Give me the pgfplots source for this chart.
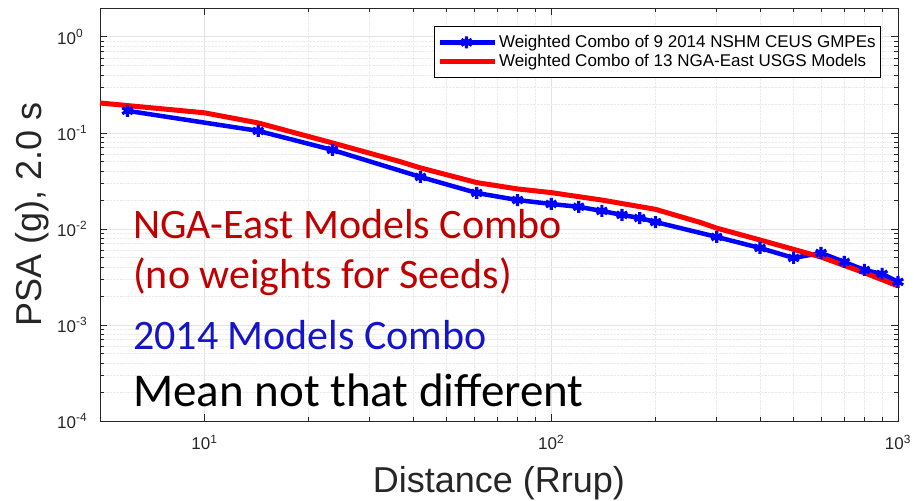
\documentclass[border=0pt]{standalone}
\usepackage{pgfplots}
\pgfplotsset{compat=1.18}
\usepackage{fontspec}
\setmainfont{Liberation Sans}
\newfontfamily\calib{Carlito}
\definecolor{axgray}{RGB}{38,38,38}
\definecolor{annred}{RGB}{192,0,0}
\definecolor{annblue}{RGB}{20,20,200}
\begin{document}
\begin{tikzpicture}
\path[use as bounding box] (-100pt,-80pt) rectangle (814pt,421pt);
\begin{axis}[
  scale only axis, width=798pt, height=413pt,
  xmode=log, ymode=log,
  xmin=5, xmax=1000, ymin=1e-4, ymax=2,
  clip=false,
  axis line style={axgray, line width=0.8pt},
  tick style={axgray, line width=0.8pt},
  major tick length=7pt, minor tick length=4pt,
  tick align=inside,
  xtick={10,100,1000},
  xticklabels={10\textsuperscript{1},10\textsuperscript{2},10\textsuperscript{3}},
  ytick={1e-4,1e-3,1e-2,1e-1,1},
  yticklabels={10\textsuperscript{-4},10\textsuperscript{-3},10\textsuperscript{-2},10\textsuperscript{-1},10\textsuperscript{0}},
  tick label style={font=\fontsize{17}{19}\selectfont, text=axgray, inner sep=0pt},
  xticklabel style={anchor=north, yshift=-14pt},
  yticklabel style={anchor=west, xshift=-43pt},
  grid=both,
  major grid style={color=gray!22, line width=0.8pt},
  minor grid style={color=gray!16, densely dotted, line width=0.8pt},
  xlabel={Distance (Rrup)},
  ylabel={PSA (g), 2.0 s},
  label style={font=\fontsize{36}{40}\selectfont, text=axgray},
  xlabel style={at={(axis description cs:0.5,-0.1743)}, anchor=base},
  ylabel style={at={(axis description cs:-0.0727,0.5)}, anchor=base},
  legend cell align=left,
  legend style={at={(0.9787,0.956)}, anchor=north east, draw=black, line width=0.6pt,
    fill=white, font=\fontsize{17}{20}\selectfont, inner xsep=3pt, inner ysep=7pt, row sep=1pt,
    /tikz/every even column/.append style={column sep=0pt}},
  legend image code/.code={\draw[mark repeat=2, mark phase=2, #1] plot coordinates {(0pt,0pt) (27pt,0pt) (55pt,0pt)};},
]
\addplot[blue, line width=4.5pt, mark=asterisk, mark size=6pt, mark options={line width=3.2pt}] coordinates {
(6,0.170) (14.3,0.105) (23.4,0.0665) (42,0.0348) (61,0.0237) (80,0.0200)
(100,0.0182) (120,0.0170) (140,0.0154) (160,0.0140) (180,0.0130) (200,0.0118)
(300,0.00826) (400,0.00634) (500,0.00499) (600,0.00562) (700,0.00453)
(800,0.00374) (900,0.00340) (1000,0.00281)
};
\addlegendentry{Weighted Combo of 9 2014 NSHM CEUS GMPEs}
\addplot[red, line width=5pt] coordinates {
(5,0.205) (10,0.162) (14.3,0.127) (23.4,0.0787) (36.7,0.0502) (42,0.0432)
(61,0.0304) (80,0.0261) (100,0.0239) (140,0.0200) (200,0.0160) (270,0.01164)
(300,0.0102) (400,0.00768) (600,0.0051) (800,0.0035) (1000,0.00255)
};
\addlegendentry{Weighted Combo of 13 NGA-East USGS Models}
\node[anchor=base west, inner sep=0pt, text=annred, font=\calib\fontsize{42}{46}\selectfont] at (rel axis cs:0.0414,0.443) {NGA-East Models Combo};
\node[anchor=base west, inner sep=0pt, text=annred, font=\calib\fontsize{42}{46}\selectfont] at (rel axis cs:0.0414,0.320) {(no weights for Seeds)};
\node[anchor=base west, inner sep=0pt, text=annblue, font=\calib\fontsize{42}{46}\selectfont] at (rel axis cs:0.0414,0.172) {2014 Models Combo};
\node[anchor=base west, inner sep=0pt, text=black, font=\calib\fontsize{47}{50}\selectfont] at (rel axis cs:0.0414,0.034) {Mean not that different};
\end{axis}
\end{tikzpicture}
\end{document}
